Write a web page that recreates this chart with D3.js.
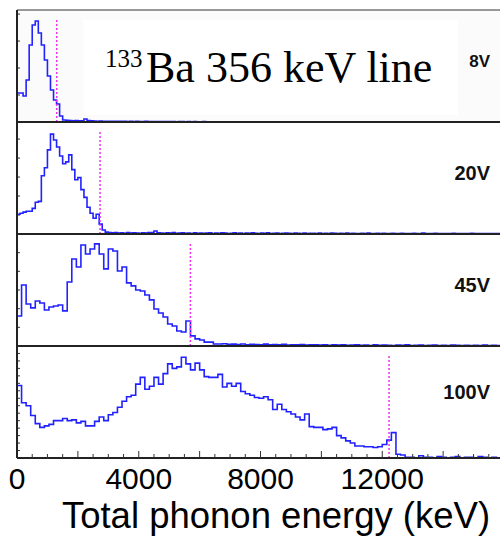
<!DOCTYPE html>
<html><head><meta charset="utf-8">
<script src="https://cdn.jsdelivr.net/npm/d3@7"></script>
<style>body{margin:0;background:#fff}svg{display:block}</style>
</head><body>
<svg id="c" width="500" height="539"></svg>
<script>
const voltages = ["8V", "20V", "45V", "100V"];
const lineEnergies = [1305, 2729, 5696, 12223];
const binWidths = [100, 100, 150, 150];
const yMaxes = [4150, 590, 600, 150];
const yTickSteps = [1000, 100, 100, 10];
const xTickLabels = [0, 4000, 8000, 12000];
const xTitle = "Total phonon energy (keV)";

const counts8V = [
1074,1074,963,1556,2852,3593,3741,3296,2852,2296,1704,1185,815,667,222,74,
60,55,45,50,40,45,110,50,40,35,30,35,30,25,30,28,
25,30,22,25,20,24,18,22,20,18,22,16,20,18,15,19,
16,14,18,15,12,16,14,12,15,10,14,12,10,13,11,9,
12,10,8,11,9,10,8,12,7,9,8,10,6,9,7,8,
6,8,7,5,8,6,7,5,6,8,5,7,4,6,5,7,
5,4,6,5,3,6,4,5,3,5,4,6,3,4,5,3,
4,5,3,4,2,5,3,4,3,2,4,3,5,2,3,4,
3,2,4,3,2,3,4,2,3,2,3,4,2,3,2,3,
2,3,2,4,2,3,2,2,3,2,3,2,2,3,2,2];

const counts20V = [
104,109,115,120,120,135,167,172,307,349,443,526,495,458,411,370,380,417,339,286,297,234,193,141,109,83,104,52,21,10,
8,6,7,5,6,4,7,5,6,5,4,6,5,7,8,16,
6,5,4,6,5,7,4,5,6,4,5,3,6,4,5,4,
5,6,3,5,4,6,5,3,4,6,4,5,3,5,4,6,
4,3,5,4,6,3,4,5,3,4,5,4,3,5,4,3,
5,3,4,4,3,5,3,4,3,5,4,3,4,2,5,3,
4,3,2,4,3,5,3,2,4,3,4,2,3,4,3,2,
4,3,2,3,4,2,3,5,2,3,2,4,3,2,3,2,
3,4,2,3,2,3,2,4,3,2,3,2,3,2,2,3,2,3];

const counts45V = [
161,327,225,204,241,230,193,209,214,220,
188,343,466,423,541,493,520,547,493,413,
520,509,402,423,338,322,300,295,273,247,
198,177,155,118,107,80,75,134,54,38,
32,21,21,11,11,
12,9,10,8,11,7,9,8,6,10,
7,8,6,9,5,7,6,8,5,6,
7,5,6,4,7,5,6,4,5,6,
4,5,3,6,4,5,4,3,5,4,
6,3,4,5,3,4,5,3,4,3,
5,4,3,4,3,4,3,5,3,4,
3,4];

const counts100V = [
97,74,70,57,46,41,43,45,50,50,
53,50,51,47,49,43,43,49,55,50,
58,61,68,76,82,84,99,108,92,96,
108,99,113,126,120,122,135,126,118,127,
118,109,108,108,112,95,100,96,100,89,
86,84,81,80,82,78,65,72,65,62,
59,55,51,59,42,41,41,38,39,41,
30,27,23,20,16,16,15,15,14,15,
18,24,34,5,4,1,1,0,3,1,
1,0,2,1,0,1,2,0,1,1,0,2,1,0,1,0,1];

const allCounts = [counts8V, counts20V, counts45V, counts100V];

const svg = d3.select("#c");
const plotLeft = 17, plotRight = 504, plotTop = 10, panelH = 112;
const x = d3.scaleLinear().domain([0, 16000]).range([plotLeft, plotRight]);

svg.append("defs").append("clipPath").attr("id", "plotclip")
  .append("rect").attr("x", plotLeft).attr("y", plotTop).attr("width", 500 - plotLeft).attr("height", panelH * 4);

allCounts.forEach((counts, p) => {
  const pTop = plotTop + p * panelH, pBot = pTop + panelH;
  const y = d3.scaleLinear().domain([0, yMaxes[p]]).range([pBot, pTop]);
  const g = svg.append("g");
  if (p === 0) {
    g.append("rect").attr("x", plotLeft).attr("y", pTop).attr("width", 500 - plotLeft).attr("height", panelH).attr("fill", "#fbfbfb");
    g.append("rect").attr("x", 83).attr("y", 20).attr("width", 375).attr("height", 95).attr("fill", "#ffffff");
  }
  const yt = d3.range(yTickSteps[p], yMaxes[p] + 1, yTickSteps[p]);
  g.selectAll("line.yt").data(yt).join("line")
    .attr("x1", plotLeft).attr("x2", plotLeft + 3)
    .attr("y1", d => y(d)).attr("y2", d => y(d))
    .attr("stroke", "#333").attr("stroke-width", 1);
  const w = binWidths[p];
  const pts = counts.map((c, i) => [i * w, c]);
  pts.push([counts.length * w, counts[counts.length - 1]]);
  const line = d3.line().x(d => x(d[0])).y(d => y(d[1])).curve(d3.curveStepAfter);
  g.append("path").attr("d", line(pts)).attr("fill", "none")
    .attr("stroke", "#2222ff").attr("stroke-width", 1.6)
    .attr("clip-path", "url(#plotclip)");
  g.append("line").attr("x1", x(lineEnergies[p])).attr("x2", x(lineEnergies[p]))
    .attr("y1", pTop + 10).attr("y2", pBot)
    .attr("stroke", "#ee33ee").attr("stroke-width", 1.5).attr("stroke-dasharray", "2,2");
  g.append("text").attr("x", 490).attr("y", pTop + (p === 0 ? 57 : (p === 3 ? 53 : 58)))
    .attr("text-anchor", "end").attr("font-family", "Liberation Sans, Arial, sans-serif")
    .attr("font-weight", "bold").attr("font-size", p === 0 ? 17 : 20).attr("fill", "#111")
    .text(voltages[p]);
  g.append("line").attr("x1", plotLeft).attr("x2", 500).attr("y1", pBot).attr("y2", pBot)
    .attr("stroke", "#222").attr("stroke-width", 2);
});

svg.append("line").attr("x1", plotLeft).attr("x2", 500).attr("y1", plotTop).attr("y2", plotTop)
  .attr("stroke", "#777").attr("stroke-width", 1.5);
svg.append("line").attr("x1", plotLeft).attr("x2", plotLeft).attr("y1", plotTop).attr("y2", plotTop + 4 * panelH)
  .attr("stroke", "#222").attr("stroke-width", 2);

const plotBottom = plotTop + 4 * panelH;
const minor = d3.range(500, 16001, 500);
svg.selectAll("line.xt").data(minor).join("line")
  .attr("x1", d => x(d)).attr("x2", d => x(d))
  .attr("y1", plotBottom).attr("y2", d => plotBottom - (d % 2000 === 0 ? 7 : 4))
  .attr("stroke", "#333").attr("stroke-width", 1);

svg.selectAll("text.xl").data(xTickLabels).join("text")
  .attr("x", d => x(d)).attr("y", 489).attr("text-anchor", "middle")
  .attr("font-family", "Liberation Sans, Arial, sans-serif").attr("font-size", 30).attr("fill", "#000")
  .text(d => d);

svg.append("text").attr("x", 276).attr("y", 528).attr("text-anchor", "middle")
  .attr("font-family", "Liberation Sans, Arial, sans-serif").attr("font-size", 36.5).attr("fill", "#000")
  .text(xTitle);

svg.append("text").attr("x", 105).attr("y", 67)
  .attr("font-family", "Liberation Serif, Times New Roman, serif").attr("font-size", 25).attr("fill", "#000")
  .text("133");
svg.append("text").attr("x", 146).attr("y", 82)
  .attr("font-family", "Liberation Serif, Times New Roman, serif").attr("font-size", 44).attr("fill", "#000")
  .text("Ba 356 keV line");
</script>
</body></html>
